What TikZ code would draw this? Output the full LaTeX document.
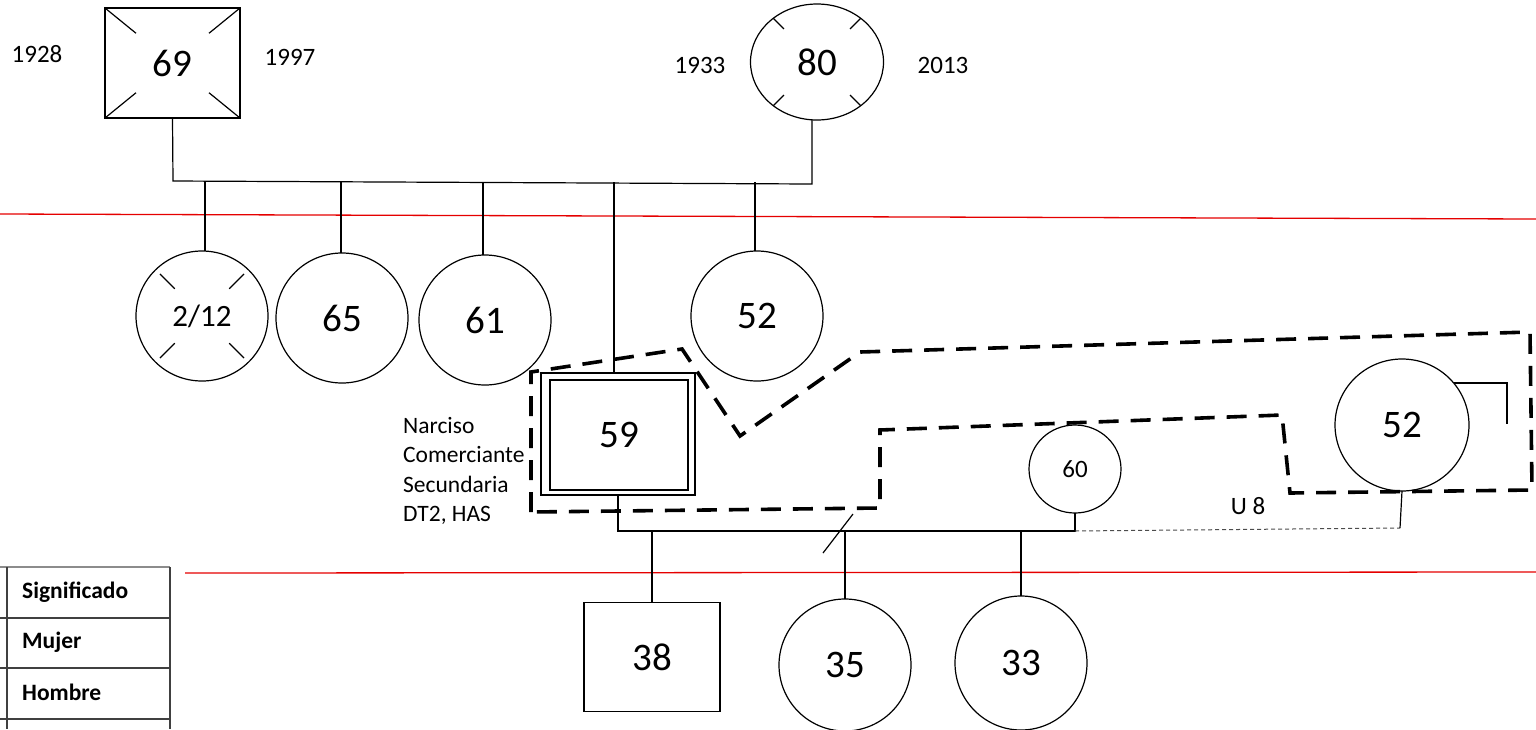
\documentclass[tikz,border=0pt]{standalone}
\usepackage{fontspec}
\setmainfont{Carlito}
\usetikzlibrary{shapes.geometric,calc}
\begin{document}
\begin{tikzpicture}[x=1pt,y=-1pt,
  big/.style={font=\fontsize{39}{42}\selectfont},
  mid/.style={font=\fontsize{31}{34}\selectfont},
  small/.style={font=\fontsize{25}{29}\selectfont},
  fem/.style={ellipse,draw,line width=1.2pt,inner sep=0pt,outer sep=0pt,minimum width=132pt,minimum height=130pt},
  male/.style={rectangle,draw,line width=1.2pt,inner sep=0pt,outer sep=0pt},
  link/.style={line width=1.2pt},
  tickmark/.style={line width=1.2pt},
  boundary/.style={line width=3.6pt,dash pattern=on 20pt off 12pt},
  redline/.style={draw=red!90!black,line width=1.3pt},
  legtxt/.style={font=\bfseries\fontsize{23.5}{27}\selectfont,anchor=west,inner sep=0pt},
  legline/.style={draw=black!75,line width=1.8pt}
]
\useasboundingbox (0,0) rectangle (1536,729);

% red generation lines
\draw[redline] (0,214) -- (1536,219);
\draw[redline] (185,573) -- (1536,572);

% generation I
\node[male,big,minimum width=135pt,minimum height=110pt] (sq69) at (172.5,63) {69};
\foreach \c in {north west,north east,south west,south east}
  \draw[tickmark] (sq69.\c) -- ($(sq69.\c)!40pt!(sq69.center)$);
\node[small] (y1928) at (37,54) {1928};
\node[small] (y1997) at (290,57) {1997};

\node[fem,big,minimum width=133pt,minimum height=116pt] (c80) at (817,62) {80};
\foreach \a in {45,135,225,315}
  \draw[tickmark] (c80.\a) -- ($(c80.\a)!15pt!(c80.center)$);
\node[small] (y1933) at (700,65) {1933};
\node[small] (y2013) at (943,65) {2013};

\coordinate (pl) at (173,181);
\coordinate (pr) at (812,184);
\draw[link] (sq69.south) -- (pl) -- (pr) -- ([xshift=-5pt]c80.south);

% generation II
\node[fem,mid] (c212) at (202,316) {2/12};
\foreach \a in {45,135,225,315}
  \draw[tickmark] ($(c212.\a)!6pt!(c212.center)$) -- ($(c212.\a)!27pt!(c212.center)$);
\node[fem,big] (c65) at (342,318) {65};
\node[fem,big] (c61) at (485,320) {61};
\node[fem,big] (c52a) at (757,316) {52};

\node[male,minimum width=154pt,minimum height=122pt] (sq59) at (618,434) {};
\node[male,big,minimum width=138pt,minimum height=110pt] (sq59in) at (619,435) {59};

\foreach \n/\x in {c212/205,c65/341,c61/483,c52a/755}
  \draw[link] (\x,182) -- (\x,182 |- \n.north);
\draw[link] (614,182) -- (614,182 |- sq59.north);

\node[font=\fontsize{23.5}{29.5}\selectfont,align=left,anchor=west,inner sep=0pt] (info) at (403,471)
  {Narciso\\Comerciante\\Secundaria\\DT2, HAS};

% household boundary
\draw[boundary,line join=miter] (531,512) -- (531,372) -- (682,349) -- (740,436) -- (860,352)
  -- (1530,332) -- (1532,490) -- (1290,493) -- (1282,415) -- (880,430) -- (880,508) -- cycle;

% partners of 59
\node[fem,small,minimum width=92pt,minimum height=88pt] (c60) at (1075,469) {60};
\node[fem,big,minimum width=134pt,minimum height=132pt] (c52b) at (1402,425) {52};
\coordinate (hook) at (1507,383);
\draw[link] (1454,383) -- (hook) -- (1507,424);

\coordinate (m1) at (618,531);
\coordinate (m2) at (1075,531);
\coordinate (m3) at (1400,528);
\draw[link] (sq59.south) -- (m1) -- (m2) -- (c60.south);
\draw[line width=1pt,draw=black!70,dash pattern=on 4pt off 3pt] (m2) -- (m3);
\draw[link] (m3) -- (c52b.south);
\node[small] (u8) at (1248,506) {U 8};

% separation slash
\coordinate (s1) at (823,553);
\coordinate (s2) at (853,514);
\draw[link] (s1) -- (s2);

% generation III
\node[male,big,minimum width=136pt,minimum height=109pt] (sq38) at (652,657) {38};
\node[fem,big,minimum width=132pt,minimum height=132pt] (c35) at (845,665) {35};
\node[fem,big,minimum width=132pt,minimum height=134pt] (c33) at (1021,663) {33};
\draw[link] (652,531) -- (sq38.north);
\draw[link] (845,531) -- (c35.north);
\draw[link] (1021,531) -- (c33.north);

% legend table
\draw[legline,draw=black!45] (0,567) -- (170,567);
\draw[legline] (0,618) -- (170,618);
\draw[legline] (0,668) -- (170,668);
\draw[legline] (0,719) -- (170,719);
\draw[legline] (7,567) -- (7,729);
\draw[legline] (170,567) -- (170,729);
\node[legtxt] (lg1) at (22,592) {Significado};
\node[legtxt] (lg2) at (22,642) {Mujer};
\node[legtxt] (lg3) at (22,692) {Hombre};
\end{tikzpicture}
\end{document}
